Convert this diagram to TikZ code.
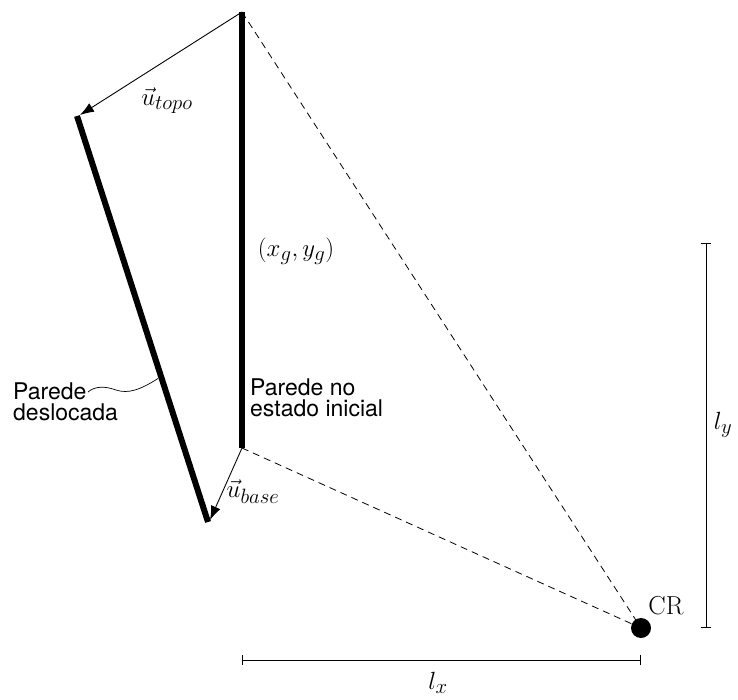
\documentclass[tikz,border=0pt]{standalone}
\usepackage{fontspec}
\setsansfont{TeX Gyre Heros}
\usetikzlibrary{arrows.meta}
\begin{document}
\begin{tikzpicture}[x=1pt,y=-1pt,
  wall/.style={line width=6pt},
  disp/.style={line width=0.9pt,-{Latex[length=14pt,width=10pt]}},
  dashline/.style={line width=0.8pt,dash pattern=on 7pt off 5pt},
  dimline/.style={line width=0.9pt,{Bar[width=10pt]}-{Bar[width=10pt]}},
  sanslabel/.style={font=\sffamily\fontsize{23}{21}\selectfont,align=left,inner sep=0pt},
  mathlabel/.style={font=\fontsize{29}{32}\selectfont,inner sep=0pt},
  crdot/.style={circle,fill=black,minimum size=20pt,inner sep=0pt}
]
\useasboundingbox (0,0) rectangle (738,700);
% points
\coordinate (wt) at (242,12);
\coordinate (wb) at (242,448);
\coordinate (dt) at (77,116);
\coordinate (db) at (208,522);
\coordinate (ly1) at (706,243);
\coordinate (ly2) at (706,628);
\coordinate (lx1) at (242,660);
\coordinate (lx2) at (641,660);
\coordinate (wv1) at (88,392);
\coordinate (wv2) at (158,378.5);
\node[crdot] (cr) at (641,628) {};
% dashed lines
\draw[dashline] (wt) -- (cr.center);
\draw[dashline] (wb) -- (cr.center);
% walls
\draw[wall] (wt) -- (wb);
\draw[wall] (dt) -- (db);
% displacement arrows
\draw[disp] (wt) -- ([shift={(3,-1)}]dt);
\draw[disp] (wb) -- ([shift={(2,-2)}]db);
% wavy leader
\draw[line width=0.7pt] (wv1) .. controls (95,386) and (105,386) .. (116,390)
  .. controls (128,394) and (140,390) .. (wv2);
% dimension lines
\draw[dimline] (ly1) -- (ly2);
\draw[dimline] (lx1) -- (lx2);
% labels
\node[mathlabel] (ut) at (167,101) {$\vec{u}_{topo}$};
\node[mathlabel] (ub) at (253,492) {$\vec{u}_{base}$};
\node[mathlabel] (xg) at (296,251) {$(x_g,y_g)$};
\node[mathlabel] (lyl) at (723,425) {$l_y$};
\node[mathlabel] (lxl) at (438,683) {$l_x$};
\node[font=\fontsize{26}{28}\selectfont,inner sep=0pt] (crl) at (666,606) {CR};
\node[sanslabel,anchor=north west] (pi) at (250,379) {Parede no\\estado inicial};
\node[sanslabel,anchor=north west] (pd) at (13,383) {Parede\\deslocada};
\end{tikzpicture}
\end{document}
